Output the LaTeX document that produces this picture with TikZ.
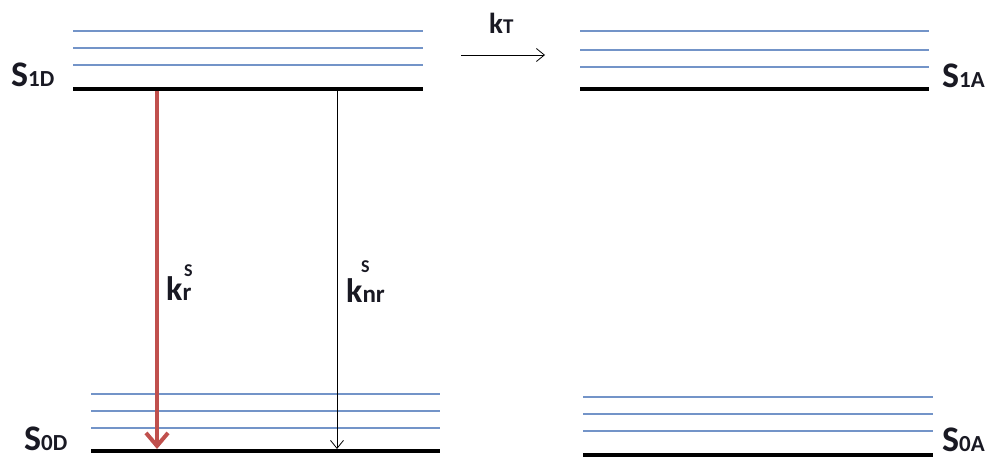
\documentclass[tikz,border=0pt]{standalone}
\usepackage{fontspec}
\setmainfont{Carlito}
\usetikzlibrary{arrows.meta}
\definecolor{vib}{RGB}{115,148,200}
\definecolor{radred}{RGB}{192,80,77}
\definecolor{ink}{RGB}{25,25,35}
\begin{document}
\begin{tikzpicture}[x=1pt,y=-1pt,
  level/.style={line width=4pt, black},
  vibline/.style={line width=1.1pt, vib},
  lbl/.style={inner sep=0pt, text=ink, font=\bfseries, anchor=base west},
  thinarrow/.style={line width=0.8pt, black, -{Straight Barb[length=8pt,width=13pt]}},
  radarrow/.style={line width=4pt, radred, -{Straight Barb[length=13pt,width=22pt]}},
]
\useasboundingbox (0,0) rectangle (990,459);
\newcommand{\Slabel}[2]{{\fontsize{36}{36}\selectfont #1}{\fontsize{23}{23}\selectfont #2}}

% donor, excited state S1 with vibrational sublevels
\foreach \y in {31,48,65} \draw[vibline] (73,\y) -- (423,\y);
\coordinate (s1dL) at (73,89);
\coordinate (s1dR) at (423,89);
\draw[level] (s1dL) -- (s1dR);

% donor, ground state S0
\foreach \y in {394,411,428} \draw[vibline] (91,\y) -- (440,\y);
\coordinate (s0dL) at (91,451);
\coordinate (s0dR) at (440,451);
\draw[level] (s0dL) -- (s0dR);

% acceptor, excited state S1
\foreach \y in {31,50,67} \draw[vibline] (580,\y) -- (929,\y);
\coordinate (s1aL) at (580,89);
\coordinate (s1aR) at (929,89);
\draw[level] (s1aL) -- (s1aR);

% acceptor, ground state S0
\foreach \y in {397,414,431} \draw[vibline] (583,\y) -- (933,\y);
\coordinate (s0aL) at (583,455);
\coordinate (s0aR) at (933,455);
\draw[level] (s0aL) -- (s0aR);

% state labels
\node[lbl] (lS1D) at (11,86) {\Slabel{S}{1D}};
\node[lbl] (lS0D) at (24,450) {\Slabel{S}{0D}};
\node[lbl] (lS1A) at (942,87) {\Slabel{S}{1A}};
\node[lbl] (lS0A) at (942,451) {\Slabel{S}{0A}};

% radiative and non-radiative decay of the donor
\coordinate (radTop) at (157,91);
\coordinate (radBot) at (157,449);
\draw[radarrow] (radTop) -- (radBot);
\coordinate (nrTop) at (337,91);
\coordinate (nrBot) at (337,449);
\draw[thinarrow] (nrTop) -- (nrBot);

\node[lbl] (lkr) at (166,300)
  {{\fontsize{34}{34}\selectfont k}{\fontsize{25}{25}\selectfont r}};
\node[lbl] (lkrS) at (184,276) {\fontsize{18}{18}\selectfont S};
\node[lbl] (lknr) at (346,302)
  {{\fontsize{34}{34}\selectfont k}{\fontsize{25}{25}\selectfont nr}};
\node[lbl] (lknrS) at (361,272) {\fontsize{18}{18}\selectfont S};

% energy transfer donor -> acceptor
\coordinate (ktL) at (461,55);
\coordinate (ktR) at (545,55);
\draw[thinarrow] (ktL) -- (ktR);
\node[lbl] (lkT) at (489,33)
  {{\fontsize{29}{29}\selectfont k}{\fontsize{21}{21}\selectfont T}};
\end{tikzpicture}
\end{document}
